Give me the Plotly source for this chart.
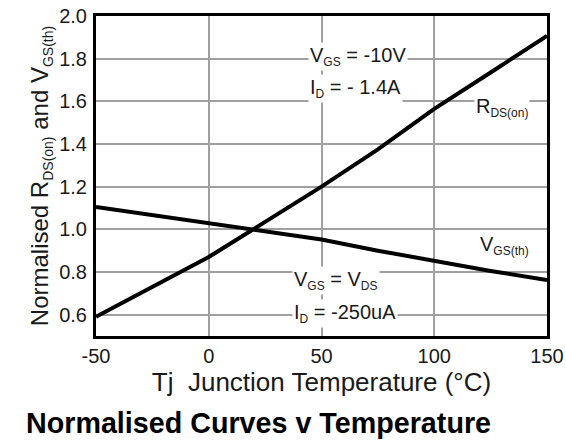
import plotly.graph_objects as go

# ---- data ----
temps = [-50, -25, 0, 25, 50, 75, 100, 125, 150]
rds_on = [0.59, 0.73, 0.87, 1.035, 1.20, 1.375, 1.565, 1.735, 1.907]
vgs_th = [1.105, 1.066, 1.027, 0.99, 0.952, 0.90, 0.851, 0.805, 0.762]

x_tickvals = [-50, 0, 50, 100, 150]
x_ticktext = ["-50", "0", "50", "100", "150"]
y_tickvals = [0.6, 0.8, 1.0, 1.2, 1.4, 1.6, 1.8, 2.0]
y_ticktext = ["0.6", "0.8", "1.0", "1.2", "1.4", "1.6", "1.8", "2.0"]

FONT = "Liberation Sans, Arial, sans-serif"
TXT = "#1a1a1a"


def sub(s, px=12):
    return f"<sub><span style='font-size:{px}px'>{s}</span></sub>"


fig = go.Figure()
fig.add_trace(go.Scatter(x=temps, y=rds_on, mode="lines",
                         line=dict(color="black", width=4), name="RDS(on)",
                         showlegend=False))
fig.add_trace(go.Scatter(x=temps, y=vgs_th, mode="lines",
                         line=dict(color="black", width=4), name="VGS(th)",
                         showlegend=False))

ann_common = dict(xref="x", yref="y", showarrow=False, bgcolor="white",
                  font=dict(family=FONT, size=20, color=TXT),
                  xanchor="left", yanchor="middle", borderpad=1)

fig.add_annotation(x=44.0, y=1.81, text="V" + sub("GS") + " = -10V", **ann_common)
fig.add_annotation(x=44.0, y=1.662, text="I" + sub("D") + " = - 1.4A", **ann_common)
fig.add_annotation(x=117.5, y=1.57, text="R" + sub("DS(on)"), **ann_common)
fig.add_annotation(x=119.5, y=0.925, text="V" + sub("GS(th)"), **ann_common)
fig.add_annotation(x=37.0, y=0.762, text="V" + sub("GS") + " = V" + sub("DS"), **ann_common)
fig.add_annotation(x=37.0, y=0.607, text="I" + sub("D") + " = -250uA", **ann_common)

fig.add_annotation(xref="paper", yref="paper", x=-0.16, y=-0.273,
                   xanchor="left", yanchor="middle", showarrow=False,
                   text="<b>Normalised Curves v Temperature</b>",
                   font=dict(family=FONT, size=28.7, color="black"))

fig.update_layout(
    width=566, height=442,
    margin=dict(l=96, r=19, t=16, b=106, autoexpand=False),
    plot_bgcolor="white", paper_bgcolor="white",
    font=dict(family=FONT, color=TXT),
)
fig.update_xaxes(
    range=[-50, 150], tickvals=x_tickvals, ticktext=x_ticktext,
    showgrid=True, gridcolor="#a0a0a0", gridwidth=1.5,
    showline=True, mirror=True, linecolor="black", linewidth=3,
    ticks="", zeroline=False, automargin=False, ticklabeloverflow="allow",
    tickfont=dict(family=FONT, size=20, color=TXT),
    title=dict(text="Tj  Junction Temperature (°C)",
               font=dict(family=FONT, size=26, color=TXT), standoff=2),
)
fig.update_yaxes(
    range=[0.5, 2.0], tickvals=y_tickvals, ticktext=y_ticktext,
    showgrid=True, gridcolor="#a0a0a0", gridwidth=1.5,
    showline=True, mirror=True, linecolor="black", linewidth=3,
    ticks="", zeroline=False, ticklabelstandoff=2, automargin=False,
    ticklabeloverflow="allow",
    tickfont=dict(family=FONT, size=20, color=TXT),
    title=dict(text="Normalised R" + sub("DS(on)", 14) + " and V" + sub("GS(th)", 14),
               font=dict(family=FONT, size=24, color=TXT), standoff=4),
)

fig.write_html("out.html",
               config={"displayModeBar": False},
               post_script="document.body.style.margin='0';document.body.style.overflow='hidden';")
